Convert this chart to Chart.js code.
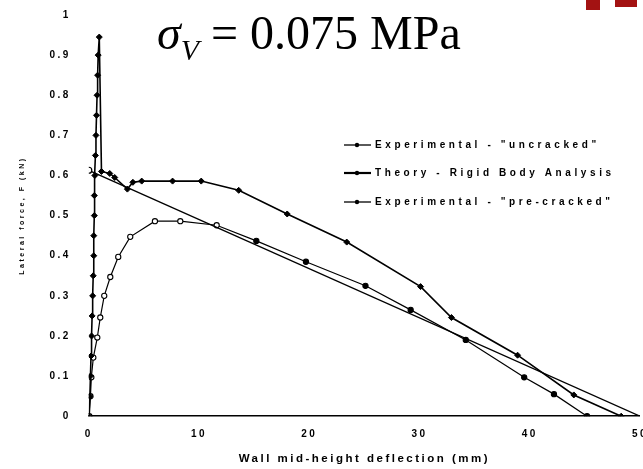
<!DOCTYPE html>
<html>
<head>
<meta charset="utf-8">
<script src="https://cdn.jsdelivr.net/npm/chart.js@4/dist/chart.umd.min.js"></script>
<style>
  body { margin: 0; background: #fff; overflow: hidden; }
  #wrap { position: relative; width: 643px; height: 469px; overflow: hidden; }
  #title { position: absolute; left: 157px; top: 5px; font-family: "Liberation Serif", serif; font-size: 48px; white-space: nowrap; color: #000; }
  #title i sub { font-size: 30px; vertical-align: -11px; }
  .logo { position: absolute; background: #a31212; }
</style>
</head>
<body>
<div id="wrap">
  <canvas id="chart" width="660" height="469"></canvas>
  <div id="title"><i>σ<sub>V</sub></i> = 0.075 MPa</div>
  <div class="logo" style="left:586px;top:0;width:14px;height:10px"></div>
  <div class="logo" style="left:615px;top:0;width:22px;height:7px"></div>
</div>
<script>
// wall mid-height deflection (mm) / lateral force (kN)
const uncrackedX = [0, 0.1, 0.15, 0.2, 0.25, 0.3, 0.35, 0.4, 0.45, 0.45, 0.5, 0.5, 0.55, 0.6, 0.65, 0.7, 0.75, 0.8, 0.85, 0.95, 1.15, 1.9, 2.35, 3.5, 4.0, 4.8, 7.6, 10.2, 13.6, 18.0, 23.4, 30.1, 32.9, 38.9, 44.0, 48.3];
const uncrackedF = [0, 0.05, 0.1, 0.15, 0.2, 0.25, 0.3, 0.35, 0.4, 0.45, 0.5, 0.55, 0.6, 0.65, 0.7, 0.75, 0.8, 0.85, 0.9, 0.945, 0.61, 0.605, 0.595, 0.566, 0.583, 0.586, 0.586, 0.586, 0.563, 0.504, 0.434, 0.323, 0.246, 0.152, 0.053, 0];

const theoryX = [0, 50];
const theoryF = [0.613, 0];

const precrackedX = [0.05, 0.15, 0.23, 0.41, 0.77, 1.04, 1.4, 1.95, 2.67, 3.76, 6.0, 8.3, 11.6, 15.2, 19.7, 25.1, 29.2, 34.2, 39.5, 42.2, 45.2];
const precrackedF = [0, 0.05, 0.097, 0.146, 0.196, 0.246, 0.3, 0.347, 0.397, 0.447, 0.486, 0.486, 0.476, 0.437, 0.385, 0.325, 0.265, 0.19, 0.097, 0.055, 0];

const seriesLabels = ['Experimental - "uncracked"', 'Theory - Rigid Body Analysis', 'Experimental - "pre-cracked"'];
const xTicks = [0, 10, 20, 30, 40, 50];

function toPoints(xs, ys) {
  return xs.map((x, i) => ({ x: x, y: ys[i] }));
}

// spaced-out lettering like the scanned original
const spacing = {
  id: 'spacing',
  beforeUpdate(chart) { chart.ctx.letterSpacing = '2.5px'; },
  beforeDraw(chart) { chart.ctx.letterSpacing = '2.5px'; }
};

// legend drawn inside the plot, one row per dataset
const insideLegend = {
  id: 'insideLegend',
  afterDatasetsDraw(chart) {
    const ctx = chart.ctx;
    const rows = [145, 173, 202];
    ctx.save();
    ctx.letterSpacing = '3.6px';
    ctx.font = 'bold 10px "Liberation Sans", Arial, sans-serif';
    ctx.fillStyle = '#000';
    ctx.textBaseline = 'middle';
    chart.data.datasets.forEach((ds, i) => {
      const y = rows[i];
      ctx.strokeStyle = '#000';
      ctx.lineWidth = i === 1 ? 2.2 : 1.3;
      ctx.beginPath();
      ctx.moveTo(344, y);
      ctx.lineTo(371, y);
      ctx.stroke();
      ctx.beginPath();
      ctx.arc(357, y, 2.2, 0, Math.PI * 2);
      ctx.fill();
      ctx.fillText(ds.label, 375, y);
    });
    ctx.restore();
  }
};

new Chart(document.getElementById('chart'), {
  type: 'scatter',
  data: {
    datasets: [
      {
        label: seriesLabels[0],
        data: toPoints(uncrackedX, uncrackedF),
        showLine: true,
        borderColor: '#000',
        backgroundColor: '#000',
        borderWidth: 1.6,
        pointStyle: 'rectRot',
        pointRadius: 3,
        pointBorderWidth: 1,
      },
      {
        label: seriesLabels[1],
        data: toPoints(theoryX, theoryF),
        showLine: true,
        borderColor: '#000',
        backgroundColor: '#fff',
        borderWidth: 1.4,
        pointRadius: [3, 0],
        pointBorderWidth: 1.2,
      },
      {
        label: seriesLabels[2],
        data: toPoints(precrackedX, precrackedF),
        showLine: true,
        borderColor: '#000',
        borderWidth: 1.2,
        pointRadius: 2.6,
        pointBorderWidth: 1.1,
        pointBackgroundColor: (c) => (c.dataIndex < 13 ? '#fff' : '#000'),
      },
    ],
  },
  options: {
    responsive: false,
    animation: false,
    layout: { padding: { left: 14, right: 12, top: 15, bottom: 3 } },
    plugins: {
      legend: { display: false },
      tooltip: { enabled: false },
    },
    scales: {
      x: {
        type: 'linear',
        min: 0,
        max: 50,
        afterBuildTicks: (axis) => { axis.ticks = xTicks.map((v) => ({ value: v })); },
        grid: { display: false, drawTicks: false },
        border: { display: true, color: '#000', width: 1.5 },
        ticks: {
          color: '#000',
          padding: 12,
          font: { family: '"Liberation Sans", Arial, sans-serif', size: 10, weight: 'bold' },
        },
        title: {
          display: true,
          text: 'Wall mid-height deflection (mm)',
          color: '#000',
          padding: { top: 0, bottom: 0 },
          font: { family: '"Liberation Sans", Arial, sans-serif', size: 11.5, weight: 'bold' },
        },
      },
      y: {
        min: 0,
        max: 1,
        grid: { display: false, drawTicks: false },
        border: { display: false },
        afterFit: (scale) => { scale.paddingTop = 6; scale.paddingBottom = 6; },
        ticks: {
          stepSize: 0.1,
          color: '#000',
          padding: 18,
          font: { family: '"Liberation Sans", Arial, sans-serif', size: 10, weight: 'bold' },
          callback: (v) => (v === 0 || v === 1 ? String(v) : v.toFixed(1)),
        },
        title: {
          display: true,
          text: 'Lateral force, F (kN)',
          color: '#000',
          padding: { top: 4, bottom: 5 },
          font: { family: '"Liberation Sans", Arial, sans-serif', size: 7, weight: 'bold' },
        },
      },
    },
  },
  plugins: [spacing, insideLegend],
});
</script>
</body>
</html>
